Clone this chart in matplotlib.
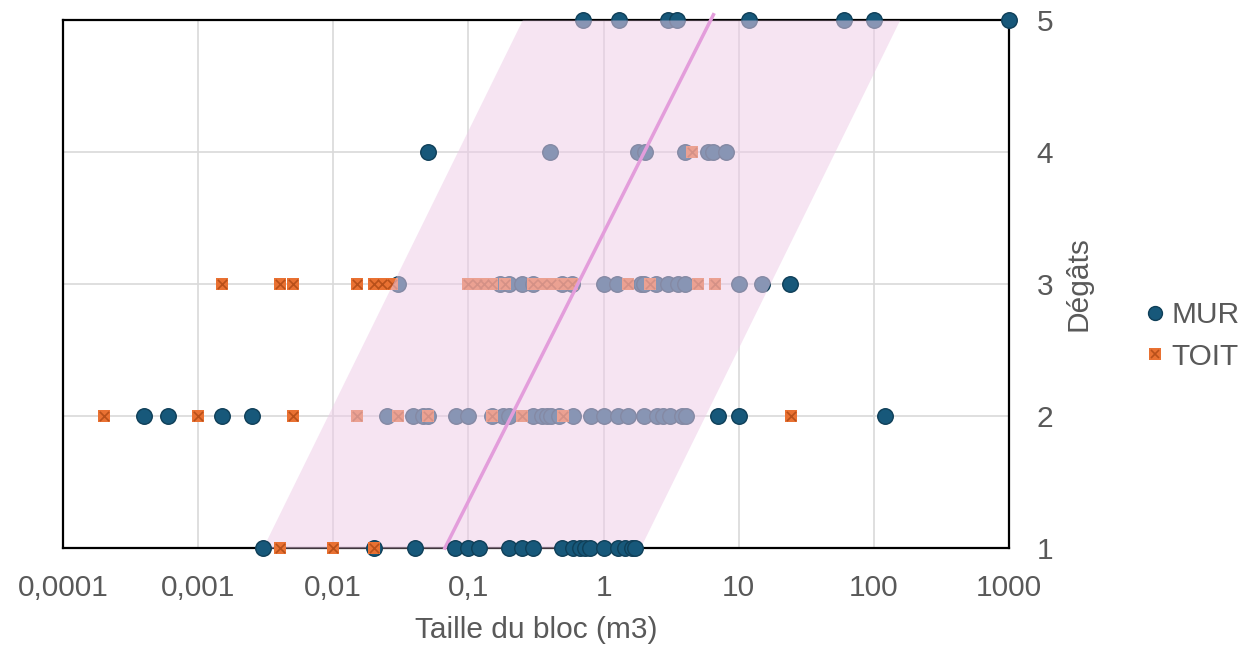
import numpy as np
import matplotlib
matplotlib.use('Agg')
import matplotlib.pyplot as plt
from matplotlib.lines import Line2D

# données (taille du bloc en m3, dégâts 1-5)
mur_x1 = [0.003, 0.02, 0.04, 0.08, 0.1, 0.12, 0.2, 0.25, 0.3, 0.49, 0.59, 0.67,
          0.73, 0.79, 1.0, 1.28, 1.45, 1.63, 1.71]
toit_x1 = [0.004, 0.01, 0.02]

mur_x2 = [0.0004, 0.0006, 0.0015, 0.0025, 0.025, 0.039, 0.046, 0.05, 0.081, 0.1,
          0.15, 0.18, 0.2, 0.3, 0.35, 0.38, 0.41, 0.47, 0.59, 0.81, 1.0, 1.28,
          1.52, 1.99, 2.48, 2.76, 3.1, 3.8, 4.1, 7.0, 10, 120]
toit_x2 = [0.0002, 0.001, 0.005, 0.015, 0.03, 0.05, 0.15, 0.25, 0.5, 24.4]

mur_x3 = [0.03, 0.17, 0.2, 0.25, 0.3, 0.49, 0.58, 1.0, 1.26, 1.9, 2.0, 2.46,
          3.0, 3.55, 4.0, 10, 14.8, 24]
toit_x3 = [0.0015, 0.004, 0.005, 0.015, 0.02, 0.023, 0.027, 0.1, 0.116, 0.13,
           0.15, 0.185, 0.3, 0.35, 0.41, 0.5, 0.58, 1.52, 2.2, 5.0, 6.7]

mur_x4 = [0.05, 0.40, 1.8, 2.03, 4.0, 5.9, 6.5, 8.0]
toit_x4 = [4.5]

mur_x5 = [0.70, 1.3, 3.0, 3.5, 11.9, 60, 100, 1000]
toit_x5 = []

# tendance et bande d'incertitude
trend_x = [0.067, 6.5]
trend_y = [1, 5.04]
band_y = [1, 5]
band_left = [0.003, 0.25]
band_right = [1.86, 155]

mur_x = [mur_x1, mur_x2, mur_x3, mur_x4, mur_x5]
toit_x = [toit_x1, toit_x2, toit_x3, toit_x4, toit_x5]

xticks = [1e-4, 1e-3, 1e-2, 1e-1, 1, 10, 100, 1000]
xlabels = ['0,0001', '0,001', '0,01', '0,1', '1', '10', '100', '1000']

plt.rcParams['font.family'] = ['Liberation Sans', 'DejaVu Sans']
GREY = '#595959'
FS = 21.5
MUR_C, MUR_E = '#17587a', '#0f3f58'
TOIT_C, TOIT_E = '#e97132', '#b8501a'

fig = plt.figure(figsize=(12.48, 6.49), dpi=100)
ax = fig.add_axes([63 / 1248, 1 - 548 / 649, 946 / 1248, 528 / 649])

for i in range(5):
    y = i + 1
    z = 5 if y == 1 else 2.6   # la ligne du bas passe devant la bande
    mx, tx = mur_x[i], toit_x[i]
    ax.scatter(mx, [y] * len(mx), s=125, color=MUR_C, edgecolor=MUR_E,
               linewidth=1, zorder=z, clip_on=False)
    if tx:
        ax.scatter(tx, [y] * len(tx), s=80, marker='s', color=TOIT_C,
                   linewidth=0, zorder=z, clip_on=False)
        ax.scatter(tx, [y] * len(tx), s=45, marker='x', color=TOIT_E,
                   linewidth=1.2, zorder=z + 0.05, clip_on=False)

ax.fill_betweenx(band_y, band_left, band_right, color='#eeCCe8', alpha=0.53,
                 linewidth=0, zorder=3)
ax.plot(trend_x, trend_y, color='#e39ddb', lw=2.5, zorder=4, clip_on=False)

ax.set_xscale('log')
ax.set_xlim(1e-4, 1000)
ax.set_ylim(1, 5)
ax.set_xticks(xticks)
ax.set_xticklabels(xlabels)
ax.xaxis.set_minor_locator(matplotlib.ticker.NullLocator())
ax.set_yticks([1, 2, 3, 4, 5])
ax.yaxis.tick_right()
ax.yaxis.set_label_position('right')
ax.tick_params(length=0, labelsize=FS, labelcolor=GREY)
ax.tick_params(axis='x', pad=19)
ax.tick_params(axis='y', pad=20)
ax.grid(True, color='#d9d9d9', lw=1.2, zorder=0)
ax.set_axisbelow(True)
for sp in ax.spines.values():
    sp.set_color('black')
    sp.set_linewidth(1.6)
    sp.set_zorder(2.5)

ax.set_xlabel('Taille du bloc (m3)', fontsize=FS, color=GREY, labelpad=10)
ax.set_ylabel('Dégâts', fontsize=FS, color=GREY, labelpad=8)

h_mur = Line2D([], [], marker='o', ls='', markersize=10, color=MUR_C,
               markeredgecolor=MUR_E)
h_sq = Line2D([], [], marker='s', ls='', markersize=8, color=TOIT_C,
              markeredgewidth=0)
h_x = Line2D([], [], marker='x', ls='', markersize=6, color=TOIT_E,
             markeredgewidth=1.2)
fig.legend([h_mur, (h_sq, h_x)], ['MUR', 'TOIT'], loc='center left',
           bbox_to_anchor=(1136 / 1248, 1 - 336 / 649), frameon=False,
           fontsize=FS, labelcolor=GREY, handletextpad=-0.1,
           labelspacing=0.45, handlelength=1.3, borderpad=0,
           borderaxespad=0)

fig.savefig('out.png', dpi=100)
